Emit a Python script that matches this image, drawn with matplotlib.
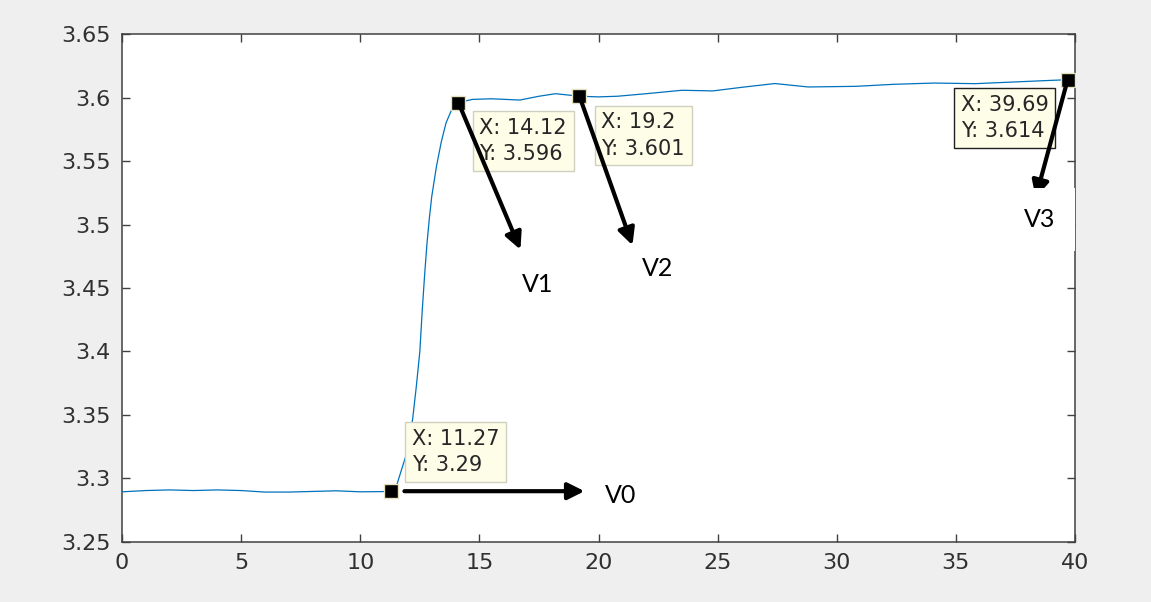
import matplotlib
matplotlib.use("Agg")
import matplotlib.pyplot as plt

# step response of the voltage (s, V)
time = [0, 1, 2, 3, 4, 5, 6, 7, 8, 9, 10, 11, 11.27,
        11.5, 11.9, 12.1, 12.2, 12.35, 12.5, 12.6, 12.7, 12.8, 12.9, 13.0, 13.2, 13.4, 13.6, 13.85, 14.12,
        14.7, 15.5, 16.7, 17.5, 18.2, 19.2, 20.0, 20.8, 22.0, 23.5, 24.8, 26.0,
        27.4, 28.8, 30.8, 32.4, 34.1, 35.8, 37.4, 39.0, 39.69]
voltage = [3.2895, 3.2905, 3.291, 3.2905, 3.291, 3.2905, 3.2893, 3.2893, 3.2898, 3.2903, 3.2895, 3.2897, 3.29,
           3.293, 3.317, 3.336, 3.347, 3.372, 3.40, 3.432, 3.46, 3.485, 3.505, 3.522, 3.546, 3.565, 3.58, 3.591, 3.596,
           3.5985, 3.599, 3.598, 3.601, 3.603, 3.601, 3.6005, 3.601, 3.603, 3.6057, 3.6052, 3.608,
           3.611, 3.6083, 3.6088, 3.6104, 3.6114, 3.6109, 3.6122, 3.6135, 3.614]

# data tips
tip_x = [11.27, 14.12, 19.2, 39.69]
tip_y = [3.29, 3.596, 3.601, 3.614]
tip_names = ["V0", "V1", "V2", "V3"]

xticks = [0, 5, 10, 15, 20, 25, 30, 35, 40]
yticks = [3.25, 3.3, 3.35, 3.4, 3.45, 3.5, 3.55, 3.6, 3.65]

bg = "#efefef"
fig = plt.figure(figsize=(11.51, 6.02), dpi=100, facecolor=bg)
ax = fig.add_axes([0.106, 0.0997, 0.828, 0.8438])
ax.set_facecolor("white")

ax.plot(time, voltage, color="#0072BD", lw=0.9, zorder=3)
ax.plot(tip_x, tip_y, ls="none", marker="s", ms=10, mfc="black", mec="#e6e2bf", mew=1, zorder=6)

ax.set_xlim(0, 40)
ax.set_ylim(3.25, 3.65)
ax.set_xticks(xticks)
ax.set_yticks(yticks)
ax.set_xticklabels(["%g" % t for t in xticks])
ax.set_yticklabels(["%g" % t for t in yticks])
ax.tick_params(direction="in", length=6, width=1, color="#404040", labelcolor="#303030",
               labelsize=16, top=True, right=True, pad=8)
for lab in ax.get_xticklabels() + ax.get_yticklabels():
    lab.set_family("DejaVu Sans")
for s in ax.spines.values():
    s.set_color("#404040")
    s.set_linewidth(1.1)

# datatip boxes: (offset px, ha, va)
tip_layout = [((21, 16), "left", "bottom"),
              ((21, -15), "left", "top"),
              ((22, -16), "left", "top"),
              ((-19, -15), "right", "top")]
tip_edges = ["#d0d0c0", "#d0d0c0", "#d0d0c0", "#202020"]
for i, (x, y) in enumerate(zip(tip_x, tip_y)):
    (dx, dy), ha, va = tip_layout[i]
    ax.annotate("X: %g\nY: %g" % (x, y), xy=(x, y), xytext=(dx, dy), textcoords="offset pixels",
                ha=ha, va=va, multialignment="left", fontsize=15, family="DejaVu Sans",
                color="#262626", linespacing=1.4, zorder=4 + i * 0.1,
                bbox=dict(boxstyle="square,pad=0.32", fc="#fdfde8", ec=tip_edges[i], lw=1))

# arrows pointing from each tip to its label
arrow_end = [(194, 0), (62, -147), (53, -149), (-32, -118)]
arrow_gap = [10, 2, 2, 2]
label_pos = [(230, -4), (79, -182), (78, -172), (-28, -140)]
for i, (x, y) in enumerate(zip(tip_x, tip_y)):
    ax.annotate("", xy=(x, y), xytext=arrow_end[i], textcoords="offset pixels",
                arrowprops=dict(arrowstyle="<|-,head_length=1.0,head_width=0.5", color="black",
                                lw=3, shrinkA=0, shrinkB=arrow_gap[i]),
                zorder=7)
    box = None
    if tip_names[i] == "V3":
        box = dict(boxstyle="square,pad=0.8", fc="white", ec="none")
    ax.annotate(tip_names[i], xy=(x, y), xytext=label_pos[i], textcoords="offset pixels",
                ha="center", va="center", fontsize=18, family="Lato", color="black",
                annotation_clip=False, zorder=8, bbox=box)

fig.savefig("out.png", dpi=100, facecolor=bg)
